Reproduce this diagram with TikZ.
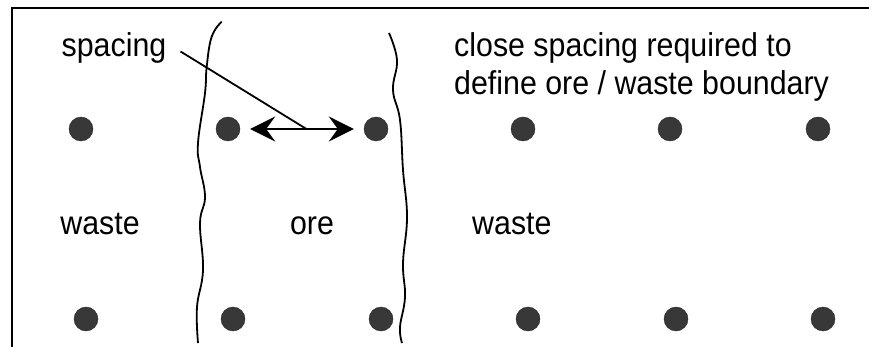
\documentclass[tikz,border=0pt]{standalone}
\usepackage{fontspec}
\setmainfont{Liberation Sans}
\usetikzlibrary{arrows.meta}
\usetikzlibrary{calc}

\newcommand{\narrowtext}[1]{\scalebox{0.92}[1]{#1}}

\tikzset{
  hole/.style={circle,fill=black!78,draw=black!85,minimum size=24pt,inner sep=0pt},
  lbl/.style={font=\fontsize{33}{38}\selectfont,inner sep=0pt},
  bound/.style={line width=1.8pt},
}

\begin{document}
\begin{tikzpicture}[x=1pt,y=1pt,yscale=-1]
\useasboundingbox (0,0) rectangle (869,347);

%Frame
\draw [line width=1.6pt] (12,347) -- (12,8) -- (869,8);

%Drill holes, upper row
\foreach \i/\x in {1/81,2/228,3/376,4/523,5/670,6/818} {
  \node [hole] (t\i) at (\x,129) {};
}
%Drill holes, lower row
\foreach \i/\x in {1/86,2/233,3/381,4/528,5/676,6/823} {
  \node [hole] (b\i) at (\x,319) {};
}

%Ore boundaries
\draw [bound] plot [smooth,tension=0.7] coordinates {(221.7,21.7) (211.7,36.7) (206.7,66.7) (205,93) (198,143) (200,167) (205,197) (200,223) (203,270) (197,307) (198,343)};
\draw [bound] plot [smooth,tension=0.7] coordinates {(389,33) (397,60) (393,90) (400,120) (403,170) (407,217) (403,263) (405,297) (400,327) (402,343)};

%Spacing arrow
\draw [line width=1.8pt,{Stealth[length=25pt,width=25pt,inset=9pt]}-{Stealth[length=25pt,width=25pt,inset=9pt]},shorten <=10pt,shorten >=10pt] (t2) -- (t3);
\coordinate (mid) at ($(t2)!0.53!(t3)$);

% Text Node
\node [lbl,anchor=base] (sp) at (114,57) {\narrowtext{spacing}};
\draw [line width=1.8pt] ([shift={(14,3)}]sp.east) -- (mid);
% Text Node
\node [lbl,anchor=base west,align=left] (note) at (454,95) {\narrowtext{close spacing required to}\\\narrowtext{define ore / waste boundary}};
% Text Node
\node [lbl,anchor=base] (w1) at (100,235) {\narrowtext{waste}};
% Text Node
\node [lbl,anchor=base] (ore) at (312,235) {\narrowtext{ore}};
% Text Node
\node [lbl,anchor=base west] (w2) at (472,235) {\narrowtext{waste}};

\end{tikzpicture}
\end{document}
